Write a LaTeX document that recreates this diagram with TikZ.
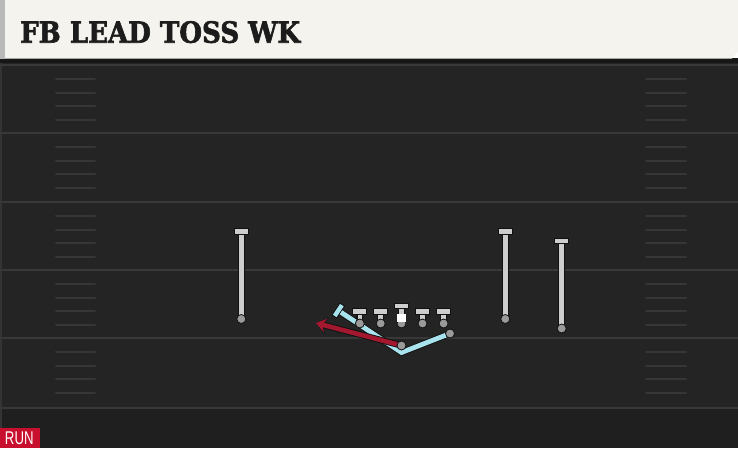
\documentclass[tikz,border=0pt]{standalone}
\usepackage{fontspec}
\setmainfont{DejaVu Serif}
\newfontfamily\titlefont{DejaVu Serif}[BoldFeatures={FakeBold=2.2}]
\newfontfamily\runfont{Liberation Sans}
\usetikzlibrary{arrows.meta,calc}
\pgfdeclarelayer{field}
\pgfdeclarelayer{routes}
\pgfsetlayers{field,routes,main}
\definecolor{hdrbg}{HTML}{F5F3ED}
\definecolor{fieldbg}{HTML}{242424}
\definecolor{lowbg}{HTML}{1F1F1F}
\definecolor{yardc}{HTML}{383838}
\definecolor{hashc}{HTML}{363636}
\definecolor{outl}{HTML}{111111}
\definecolor{lgray}{HTML}{CDCDCD}
\definecolor{dotc}{HTML}{9A9A9A}
\definecolor{lblue}{HTML}{A9E3EE}
\definecolor{rred}{HTML}{A3172F}
\definecolor{runred}{HTML}{C8102E}
\definecolor{titlec}{HTML}{1C1C1C}
\tikzset{
  gline/.style={draw=lgray, line width=4.6pt, line cap=butt,
    preaction={draw=outl, line width=6.8pt}},
  tbar/.style={draw=lgray, line width=4.4pt, line cap=butt,
    preaction={draw=outl, line width=6.4pt, shorten <=-1pt, shorten >=-1pt}},
  bline/.style={draw=lblue, line width=4.8pt, line join=miter,
    preaction={draw=outl, line width=6.6pt}},
  btbar/.style={draw=lblue, line width=4.4pt, line cap=butt,
    preaction={draw=outl, line width=6.2pt, shorten <=-1pt, shorten >=-1pt}},
  rline/.style={draw=rred, line width=4.6pt, -{Stealth[length=10pt,width=14pt,inset=3.5pt]},
    preaction={draw=outl, line width=6.4pt, -{Stealth[length=11pt,width=16pt,inset=3.5pt]}}},
  pdot/.style={circle, fill=dotc, draw=outl, line width=0.8pt, minimum size=9pt, inner sep=0pt},
  yard/.style={draw=yardc, line width=2pt},
  hash/.style={draw=hashc, line width=2pt, line cap=round},
}
\begin{document}
\begin{tikzpicture}[x=1pt,y=-1pt]
\useasboundingbox (0,0) rectangle (738,448);
\begin{pgfonlayer}{field}
  % field
  \fill[fieldbg] (0,58) rectangle (738,448);
  \fill[lowbg] (0,409) rectangle (738,448);
  \fill[outl!70!fieldbg] (0,58) rectangle (738,63);
  \draw[draw=yardc!80!fieldbg, line width=1.5pt] (1,63) -- (1,448);
  \foreach \y in {65,133,202,270,338,408} {
    \draw[yard] (0,\y) -- (738,\y);
  }
  \foreach \y in {65,133,202,270,338} {
    \foreach \d in {14,27.5,41,55} {
      \draw[hash] (56,\y+\d) -- (95,\y+\d);
      \draw[hash] (646,\y+\d) -- (686,\y+\d);
    }
  }
  % header
  \fill[hdrbg] (0,0) -- (738,0) -- (738,52) -- (732,58.5) -- (0,58.5) -- cycle;
  \fill[gray!55] (0,0) rectangle (5,58.5);
  \node[anchor=south west, inner sep=0pt, text=titlec] (title) at (20,43.3)
    {\resizebox{280pt}{21.6pt}{\titlefont\bfseries FB LEAD TOSS WK}};
  % run tag
  \fill[runred] (0,428.3) rectangle (39.5,448);
  \node[anchor=south west, inner sep=0pt, text=white] (run) at (4.8,445)
    {\resizebox{28.6pt}{12.7pt}{\runfont RUN}};
\end{pgfonlayer}

% players
\node[pdot] (wrl) at (241.3,319) {};
\node[pdot] (wrr) at (505.3,319) {};
\node[pdot] (wrf) at (561.7,328.5) {};
\node[pdot] (lt) at (359.8,323.5) {};
\node[pdot] (lg) at (380.7,323.5) {};
\node[pdot] (c) at (401.5,323.5) {};
\node[pdot] (rg) at (422.5,323.5) {};
\node[pdot] (rt) at (443.6,323.5) {};
\node[pdot] (fb) at (450,333.5) {};
\node[pdot] (qb) at (401.5,345.5) {};
\fill[white] (397.4,313.5) rectangle (405.6,321.5);

\coordinate (wrlT) at (241.3,231.5);
\coordinate (wrrT) at (505.3,231.5);
\coordinate (wrfT) at (561.7,241);
\coordinate (ltT) at (359.8,311.5);
\coordinate (lgT) at (380.7,311.5);
\coordinate (cT) at (401.5,306);
\coordinate (rgT) at (422.5,311.5);
\coordinate (rtT) at (443.6,311.5);
\coordinate (fbV) at (401.5,352.5);
\coordinate (fbT) at (338.3,310.5);
\coordinate (qbE) at (316,323);

\begin{pgfonlayer}{routes}
  \foreach \p in {wrl,wrr,wrf,lt,lg,c,rg,rt} {
    \draw[gline] (\p.center) -- (\p T);
    \draw[tbar] ([xshift=-6.5pt]\p T) -- ([xshift=6.5pt]\p T);
  }
  \draw[bline] (fb.center) -- (fbV) -- (fbT);
  \draw[btbar] ($(fbT)+(3.6,-5.4)$) -- ($(fbT)+(-3.6,5.4)$);
  \draw[rline] (qb.center) -- (qbE);
\end{pgfonlayer}
\end{tikzpicture}
\end{document}
